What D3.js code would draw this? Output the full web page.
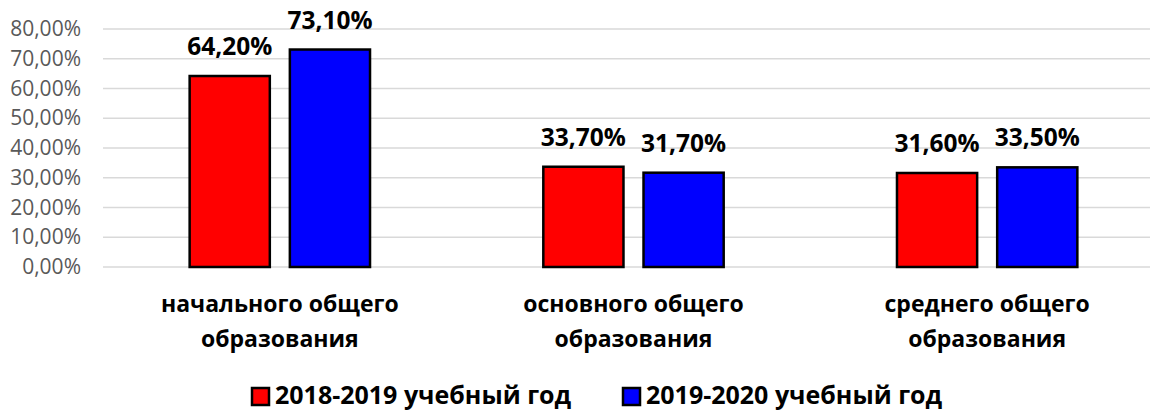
<!DOCTYPE html>
<html>
<head>
<meta charset="utf-8">
<script src="https://cdn.jsdelivr.net/npm/d3@7"></script>
<style>
  body { margin: 0; background: #fff; }
  svg text { font-family: "Open Sans", "DejaVu Sans", sans-serif; }
</style>
</head>
<body>
<div id="chart"></div>
<script>
const categories = [["начального общего", "образования"], ["основного общего", "образования"], ["среднего общего", "образования"]]
const seriesNames = ["2018-2019 учебный год", "2019-2020 учебный год"]
const values2018 = [64.2, 33.7, 31.6]
const values2019 = [73.1, 31.7, 33.5]
const colors = ["#ff0000", "#0000ff"]
const yTicks = [0, 10, 20, 30, 40, 50, 60, 70, 80]

drawChart("#chart")

function drawChart(id){
    const canvas = createCanvas()
    const svg = d3.select(id).append("svg").attr("width", canvas.width).attr("height", canvas.height)
    const sc = addScales(canvas)

    addGrid(svg, sc, canvas)
    addBars(svg, sc)
    addCategoryLabels(svg, sc, canvas)
    addLegend(svg, canvas)
}

function createCanvas(){
    return { width: 1150, height: 410, margin: { top: 29, left: 103, right: -14, bottom: 143 } }
}

function addScales(canvas){
    const idx = d3.range(categories.length)
    const x = d3.scaleBand().domain(idx)
        .range([canvas.margin.left, canvas.width - canvas.margin.right])
        .paddingInner(0.49).paddingOuter(0.245)
    const xSub = d3.scaleBand().domain([0, 1]).range([0, x.bandwidth()]).paddingInner(0.2)
    const y = d3.scaleLinear().domain([0, 80])
        .range([canvas.height - canvas.margin.bottom, canvas.margin.top])
    return { x, xSub, y }
}

function fmt(v){
    return v.toFixed(2).replace(".", ",") + "%"
}

function addGrid(svg, sc, canvas){
    const g = svg.append("g")
    g.selectAll("line").data(yTicks).enter().append("line")
        .attr("x1", canvas.margin.left).attr("x2", canvas.width)
        .attr("y1", d => sc.y(d)).attr("y2", d => sc.y(d))
        .attr("stroke", "#d9d9d9").attr("stroke-width", 1.5)

    const axis = svg.append("g").attr("transform", `translate(${canvas.margin.left - 22},0)`)
        .call(d3.axisLeft(sc.y).tickValues(yTicks).tickSize(0).tickPadding(0).tickFormat(fmt))
    axis.select(".domain").remove()
    axis.selectAll("text").attr("fill", "#595959").attr("font-size", "21px")
        .style("font-family", "'Open Sans', sans-serif")
}

function addBars(svg, sc){
    const series = [values2018, values2019]
    series.forEach((vals, s) => {
        const g = svg.append("g")
        g.selectAll("rect").data(vals).enter().append("rect")
            .attr("x", (d, i) => sc.x(i) + sc.xSub(s))
            .attr("y", d => sc.y(d))
            .attr("width", sc.xSub.bandwidth())
            .attr("height", d => sc.y(0) - sc.y(d))
            .attr("fill", colors[s]).attr("stroke", "#000").attr("stroke-width", 2.5)

        g.selectAll("text").data(vals).enter().append("text")
            .attr("x", (d, i) => sc.x(i) + sc.xSub(s) + sc.xSub.bandwidth() / 2)
            .attr("y", d => sc.y(d) - 21)
            .attr("text-anchor", "middle").attr("font-weight", "bold").attr("font-size", "24.5px")
            .attr("fill", "#000")
            .text(d => fmt(d))
    })
}

function addCategoryLabels(svg, sc, canvas){
    const g = svg.append("g")
    categories.forEach((lines, i) => {
        const t = g.append("text")
            .attr("x", sc.x(i) + sc.x.bandwidth() / 2).attr("y", 312)
            .attr("text-anchor", "middle").attr("font-weight", "bold").attr("font-size", "23px")
        lines.forEach((ln, k) => {
            t.append("tspan").attr("x", sc.x(i) + sc.x.bandwidth() / 2).attr("dy", k === 0 ? 0 : 35).text(ln)
        })
    })
}

function addLegend(svg, canvas){
    const lg = svg.append("g")
    const starts = [252, 623]
    seriesNames.forEach((name, i) => {
        lg.append("rect").attr("x", starts[i]).attr("y", 388).attr("width", 17).attr("height", 17)
            .attr("fill", colors[i]).attr("stroke", "#000").attr("stroke-width", 2.5)
        lg.append("text").attr("x", starts[i] + 23).attr("y", 404)
            .attr("font-weight", "bold").attr("font-size", "25px").text(name)
    })
}
</script>
</body>
</html>
